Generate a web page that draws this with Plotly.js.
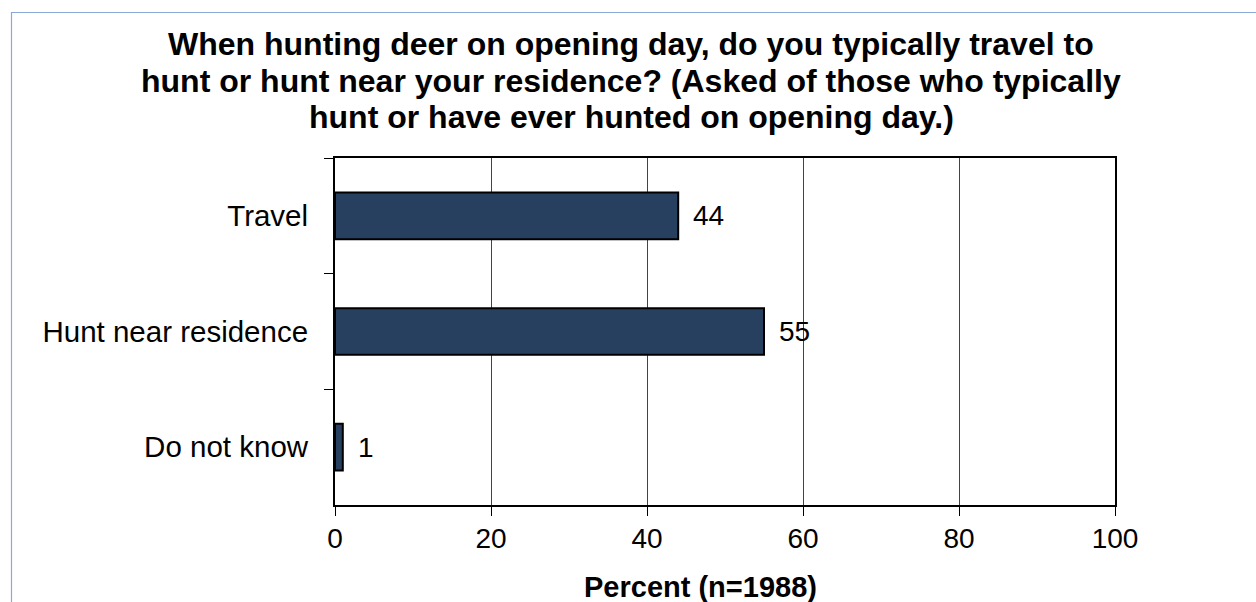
<!DOCTYPE html>
<html>
<head>
<meta charset="utf-8">
<script src="https://cdn.plot.ly/plotly-3.0.1.min.js"></script>
<style>
  html, body { margin: 0; padding: 0; background: #ffffff; }
  #chart { width: 1256px; height: 602px; }
</style>
</head>
<body>
<div id="chart"></div>
<script>
const categories = ["Travel", "Hunt near residence", "Do not know"];
const percentValues = [44, 55, 1];
const xTickValues = [0, 20, 40, 60, 80, 100];
const titleLines = [
  "When hunting deer on opening day, do you typically travel to",
  "hunt or hunt near your residence? (Asked of those who typically",
  "hunt or have ever hunted on opening day.)"
];
const xAxisTitle = "Percent (n=1988)";

const FONT = "Liberation Sans, Arial, sans-serif";

const trace = {
  type: "bar",
  orientation: "h",
  x: percentValues,
  y: categories,
  marker: { color: "#28405f", line: { color: "#000000", width: 2 } },
  hoverinfo: "x+y",
  showlegend: false
};

const valueLabels = categories.map((c, i) => ({
  x: percentValues[i],
  y: c,
  xref: "x",
  yref: "y",
  text: String(percentValues[i]),
  showarrow: false,
  xanchor: "left",
  yanchor: "middle",
  xshift: 13,
  font: { family: FONT, size: 28, color: "#000000" }
}));

// Title lines placed one by one (reference uses tighter line spacing than Plotly's default)
const titleCenters = [44, 80.7, 117.4];
const titleAnnotations = titleLines.map((t, i) => ({
  text: "<b>" + t + "</b>",
  xref: "paper",
  yref: "paper",
  x: (631 - 335) / 780,
  y: (505 - titleCenters[i]) / 347,
  xanchor: "center",
  yanchor: "middle",
  showarrow: false,
  font: { family: FONT, size: 32, color: "#000000" }
}));

const layout = {
  width: 1256,
  height: 602,
  paper_bgcolor: "#ffffff",
  plot_bgcolor: "#ffffff",
  margin: { l: 335, r: 141, t: 158, b: 97 },
  bargap: 0.596,
  xaxis: {
    range: [0, 100],
    tickvals: xTickValues,
    ticktext: xTickValues.map(String),
    ticks: "outside",
    ticklen: 9,
    tickwidth: 1,
    tickcolor: "#000000",
    showgrid: true,
    gridcolor: "#444444",
    gridwidth: 1,
    zeroline: false,
    showline: true,
    linecolor: "#000000",
    linewidth: 2,
    mirror: true,
    ticklabelstandoff: -2,
    tickfont: { family: FONT, size: 28, color: "#000000" },
    fixedrange: true
  },
  yaxis: {
    type: "category",
    categoryorder: "array",
    categoryarray: categories,
    autorange: "reversed",
    tickson: "boundaries",
    ticks: "outside",
    ticklen: 9,
    tickwidth: 1,
    tickcolor: "#000000",
    showgrid: false,
    zeroline: false,
    showline: true,
    linecolor: "#000000",
    linewidth: 2,
    mirror: true,
    ticklabelstandoff: 19,
    tickfont: { family: FONT, size: 29.5, color: "#000000" },
    fixedrange: true
  },
  annotations: valueLabels.concat(titleAnnotations, [{
    text: "<b>" + xAxisTitle + "</b>",
    xref: "paper",
    yref: "paper",
    x: (700.5 - 335) / 780,
    y: (505 - 587) / 347,
    xanchor: "center",
    yanchor: "middle",
    showarrow: false,
    font: { family: FONT, size: 29, color: "#000000" }
  }]),
  shapes: [{
    type: "rect",
    xref: "paper",
    yref: "paper",
    x0: (11.5 - 335) / 780,
    x1: 2,
    y0: -1,
    y1: (505 - 12.5) / 347,
    line: { color: "#8aa8d8", width: 1.2 },
    fillcolor: "rgba(0,0,0,0)",
    layer: "below"
  }]
};

Plotly.newPlot("chart", [trace], layout, { displayModeBar: false, staticPlot: true });
</script>
</body>
</html>
